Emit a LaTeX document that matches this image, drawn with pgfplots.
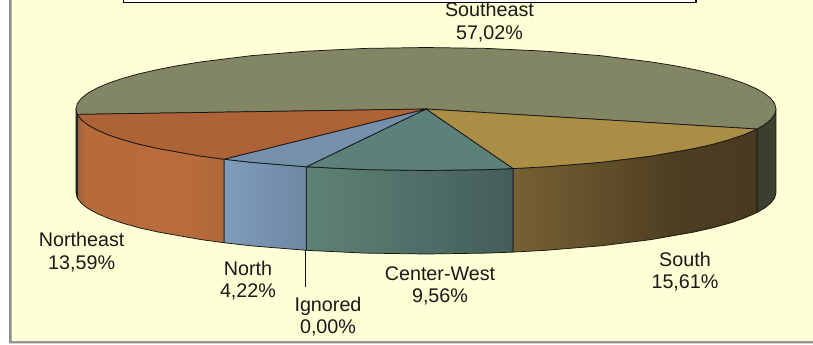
\documentclass[border=0pt]{standalone}
\usepackage{pgfplots}
\pgfplotsset{compat=1.18}
\usepackage{fontspec}
\setmainfont{Liberation Sans}
\definecolor{bgc}{HTML}{FFFFD5}
\definecolor{bord}{HTML}{8F8F8F}
\definecolor{topSE}{HTML}{838665}
\definecolor{topS}{HTML}{AB8D46}
\definecolor{topCW}{HTML}{5C8178}
\definecolor{topN}{HTML}{7490AB}
\definecolor{topNE}{HTML}{AE6336}
\definecolor{edge}{HTML}{141414}
\definecolor{ne1}{HTML}{A0603A}\definecolor{ne2}{HTML}{B86B3A}\definecolor{ne3}{HTML}{B96C3B}\definecolor{ne4}{HTML}{B1683A}
\definecolor{n1}{HTML}{7F9CBA}\definecolor{n2}{HTML}{6D88A3}
\definecolor{cw1}{HTML}{5F8277}\definecolor{cw2}{HTML}{435D5A}
\definecolor{s1}{HTML}{776133}\definecolor{s2}{HTML}{4C3C21}\definecolor{s3}{HTML}{4A3B20}
\definecolor{se1}{HTML}{3A3F2C}\definecolor{se2}{HTML}{3E4231}
\pgfdeclarehorizontalshading{sNE}{100bp}{color(0bp)=(ne1);color(25bp)=(ne1);color(28bp)=(ne2);color(60bp)=(ne3);color(75bp)=(ne4);color(100bp)=(ne4)}
\pgfdeclarehorizontalshading{sN}{100bp}{color(0bp)=(n1);color(25bp)=(n1);color(75bp)=(n2);color(100bp)=(n2)}
\pgfdeclarehorizontalshading{sCW}{100bp}{color(0bp)=(cw1);color(25bp)=(cw1);color(75bp)=(cw2);color(100bp)=(cw2)}
\pgfdeclarehorizontalshading{sS}{100bp}{color(0bp)=(s1);color(25bp)=(s1);color(60bp)=(s2);color(75bp)=(s3);color(100bp)=(s3)}
\pgfdeclarehorizontalshading{sSE}{100bp}{color(0bp)=(se1);color(25bp)=(se1);color(75bp)=(se2);color(100bp)=(se2)}
\newcommand{\lab}[3]{\node[align=center,font=\fontsize{14.8pt}{17pt}\selectfont,text=black!90,inner sep=0pt,anchor=center] at (axis cs:#1,#2) {#3};}
\begin{document}
\begin{tikzpicture}
\begin{axis}[
  scale only axis, width=609.75pt, height=258pt,
  xmin=0, xmax=813, ymin=0, ymax=344, y dir=reverse,
  hide axis, clip=true, line join=round]
% page and frame
\addplot[fill=white,draw=none] coordinates {(0,0)(813,0)(813,344)(0,344)(0,0)};
\addplot[fill=bord,draw=none] coordinates {(9,0)(813,0)(813,343.4)(9,343.4)(9,0)};
\addplot[fill=bgc,draw=none] coordinates {(11.7,0)(813,0)(813,341)(11.7,341)(11.7,0)};
% title box
\addplot[fill=white,draw=black,line width=0.9pt] coordinates {(123.5,-5)(696,-5)(696,2.3)(123.5,2.3)(123.5,-5)};
% side walls
\addplot[shade,shading=sSE,draw=edge,line width=0.55pt] coordinates {(756.9,129)(764.1,124.9)(770.7,119.7)(774.7,114.4)(776,109)(776,192.5)(774.7,197.9)(770.7,203.2)(764.1,208.4)(756.9,212.5)(756.9,129)};
\addplot[shade,shading=sS,draw=edge,line width=0.55pt] coordinates {(756.9,129)(754.9,130)(743.2,135)(729.1,139.75)(712.7,144.3)(694.1,148.5)(651,156.1)(601,162.3)(545.7,166.8)(513,168.6)(513,252.1)(545.7,250.3)(601,245.8)(651,239.6)(694.1,232)(712.7,227.8)(729.1,223.25)(743.2,218.5)(754.9,213.5)(756.9,212.5)(756.9,129)};
\addplot[shade,shading=sCW,draw=edge,line width=0.55pt] coordinates {(513,168.6)(486.8,169.6)(426,170.5)(365.2,169.6)(306.3,166.8)(306.3,250.3)(365.2,253.1)(426,254)(486.8,253.1)(513,252.1)(513,168.6)};
\addplot[shade,shading=sN,draw=edge,line width=0.55pt] coordinates {(306.3,166.8)(251,162.3)(224,159.2)(224,242.7)(251,245.8)(306.3,250.3)(306.3,166.8)};
\addplot[shade,shading=sNE,draw=edge,line width=0.55pt] coordinates {(224,159.2)(201,156.1)(157.9,148.5)(139.3,144.3)(122.9,139.75)(108.8,135)(97.1,130)(87.9,124.9)(81.3,119.7)(77.3,114.4)(77.3,197.9)(81.3,203.2)(87.9,208.4)(97.1,213.5)(108.8,218.5)(122.9,223.25)(139.3,227.8)(157.9,232)(201,239.6)(224,242.7)(224,159.2)};
\addplot[shade,shading=sSE,draw=edge,line width=0.55pt] coordinates {(77.3,114.4)(76,109)(76,192.5)(77.3,197.9)(77.3,114.4)};
% top faces
\addplot[fill=topSE,draw=edge,line width=0.55pt] coordinates {(426,109)(77.3,114.4)(76,109)(77.3,103.6)(81.3,98.3)(87.9,93.1)(97.1,88)(108.8,83)(122.9,78.25)(139.3,73.7)(157.9,69.5)(178.5,65.5)(201,61.9)(251,55.7)(306.3,51.2)(365.2,48.4)(426,47.5)(486.8,48.4)(545.7,51.2)(601,55.7)(651,61.9)(673.5,65.5)(694.1,69.5)(712.7,73.7)(729.1,78.25)(743.2,83)(754.9,88)(764.1,93.1)(770.7,98.3)(774.7,103.6)(776,109)(774.7,114.4)(770.7,119.7)(764.1,124.9)(756.9,129)(426,109)};
\addplot[fill=topS,draw=edge,line width=0.55pt] coordinates {(426,109)(756.9,129)(754.9,130)(743.2,135)(729.1,139.75)(712.7,144.3)(694.1,148.5)(651,156.1)(601,162.3)(545.7,166.8)(513,168.6)(426,109)};
\addplot[fill=topCW,draw=edge,line width=0.55pt] coordinates {(426,109)(513,168.6)(486.8,169.6)(426,170.5)(365.2,169.6)(306.3,166.8)(426,109)};
\addplot[fill=topN,draw=edge,line width=0.55pt] coordinates {(426,109)(306.3,166.8)(251,162.3)(224,159.2)(426,109)};
\addplot[fill=topNE,draw=edge,line width=0.55pt] coordinates {(426,109)(224,159.2)(201,156.1)(157.9,148.5)(139.3,144.3)(122.9,139.75)(108.8,135)(97.1,130)(87.9,124.9)(81.3,119.7)(77.3,114.4)(426,109)};
% leader
\addplot[draw=edge,line width=0.6pt] coordinates {(305.7,250)(305.7,286.7)};
% labels
\lab{489.5}{22}{Southeast\\57,02\%}
\lab{81.7}{252}{Northeast\\13,59\%}
\lab{248}{280.5}{North\\4,22\%}
\lab{328}{316.5}{Ignored\\0,00\%}
\lab{440}{286}{Center-West\\9,56\%}
\lab{685}{271.5}{South\\15,61\%}
\end{axis}
\end{tikzpicture}
\end{document}
